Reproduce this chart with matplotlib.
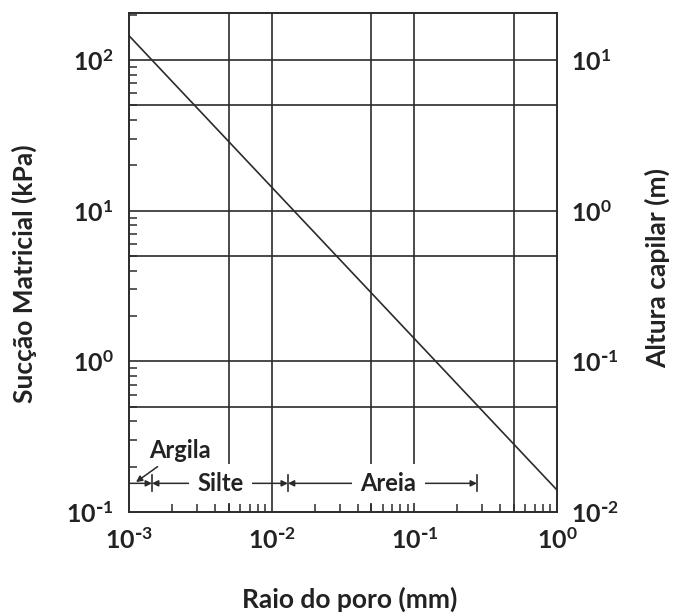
import matplotlib
matplotlib.use("Agg")
import matplotlib.pyplot as plt
from matplotlib.ticker import LogLocator, NullFormatter

plt.rcParams['font.family'] = ['Lato', 'DejaVu Sans']
plt.rcParams['font.weight'] = 'bold'
plt.rcParams['mathtext.default'] = 'regular'

# data
raio = [1e-3, 1e0]            # mm
succao = [145, 0.14]          # kPa
xgrid = [5e-3, 1e-2, 5e-2, 1e-1, 5e-1]
ygrid = [0.5, 1, 5, 10, 50, 100]
xticks = [1e-3, 1e-2, 1e-1, 1e0]
xticklabels = [r'$10^{\text{-}3}$', r'$10^{\text{-}2}$', r'$10^{\text{-}1}$', '$10^{0}$']
yticks = [0.1, 1, 10, 100]
yticklabels = [r'$10^{\text{-}1}$', '$10^{0}$', '$10^{1}$', '$10^{2}$']
y2ticks = [0.01, 0.1, 1, 10]
y2ticklabels = [r'$10^{\text{-}2}$', r'$10^{\text{-}1}$', '$10^{0}$', '$10^{1}$']
limites = [1e-3, 1.45e-3, 0.013, 0.275]
faixas = ['Argila', 'Silte', 'Areia']
faixa_txt_x = [1.38e-3, 4.4e-3, 0.066]

cor = '#2b2b2b'
fig = plt.figure(figsize=(6.76, 6.14), dpi=100)
ax = fig.add_axes([0.1908, 0.1661, 0.6331, 0.8127])
ax.set_xscale('log')
ax.set_yscale('log')
ax.set_xlim(1e-3, 1)
ax.set_ylim(0.1, 205)

for v in xgrid:
    ax.axvline(v, color=cor, lw=1.2, zorder=1)
for v in ygrid:
    ax.axhline(v, color=cor, lw=1.2, zorder=1)

ax.plot(raio, succao, color=cor, lw=1.2, zorder=2)

ax.set_xticks(xticks)
ax.set_xticklabels(xticklabels, fontsize=18)
ax.set_yticks(yticks)
ax.set_yticklabels(yticklabels, fontsize=18)
ax.xaxis.set_minor_locator(LogLocator(base=10, subs=range(2, 10)))
ax.yaxis.set_minor_locator(LogLocator(base=10, subs=range(2, 10)))
ax.xaxis.set_minor_formatter(NullFormatter())
ax.yaxis.set_minor_formatter(NullFormatter())
ax.tick_params(which='major', length=0, pad=11, colors='#222222')
ax.tick_params(which='minor', direction='in', length=6, width=1.1, color=cor)
for s in ax.spines.values():
    s.set_linewidth(1.4)
    s.set_color(cor)

ax2 = ax.twinx()
ax2.set_yscale('log')
ax2.set_ylim(0.01, 20.5)
ax2.set_yticks(y2ticks)
ax2.set_yticklabels(y2ticklabels, fontsize=18)
ax2.yaxis.set_minor_formatter(NullFormatter())
ax2.tick_params(which='both', length=0, pad=10, colors='#222222')
for s in ax2.spines.values():
    s.set_visible(False)

# faixas granulometricas
yb = 0.155
seta = dict(color=cor, lw=1.1, shrinkA=0, shrinkB=0, mutation_scale=9)
ax.annotate('', xy=(limites[1], yb), xytext=(limites[0], yb),
            arrowprops=dict(arrowstyle='-|>', **seta), zorder=4)
for i in (1, 2):
    ax.annotate('', xy=(limites[i + 1], yb), xytext=(limites[i], yb),
                arrowprops=dict(arrowstyle='<|-|>', **seta), zorder=4)
for v in limites[1:]:
    ax.plot([v, v], [0.137, 0.175], color=cor, lw=1.2, zorder=4)

ax.annotate(faixas[0], xy=(1.12e-3, 0.158), xytext=(faixa_txt_x[0], 0.255),
            fontsize=17, ha='left', va='center', color='#222222',
            arrowprops=dict(arrowstyle='-|>', color=cor, lw=1.1,
                            mutation_scale=9, shrinkA=2, shrinkB=0),
            zorder=5)
for i in (1, 2):
    ax.text(faixa_txt_x[i], yb, faixas[i], fontsize=17, ha='center', va='center',
            color='#222222', zorder=5,
            bbox=dict(boxstyle='square,pad=0.35', fc='white', ec='none'))

fig.text(0.036, 0.555, 'Sucção Matricial (kPa)', rotation=90, fontsize=19,
         ha='center', va='center', color='#222222')
fig.text(0.973, 0.563, 'Altura capilar (m)', rotation=90, fontsize=19,
         ha='center', va='center', color='#222222')
fig.text(0.517, 0.024, 'Raio do poro (mm)', fontsize=19,
         ha='center', va='center', color='#222222')

fig.savefig('out.png', dpi=100)
